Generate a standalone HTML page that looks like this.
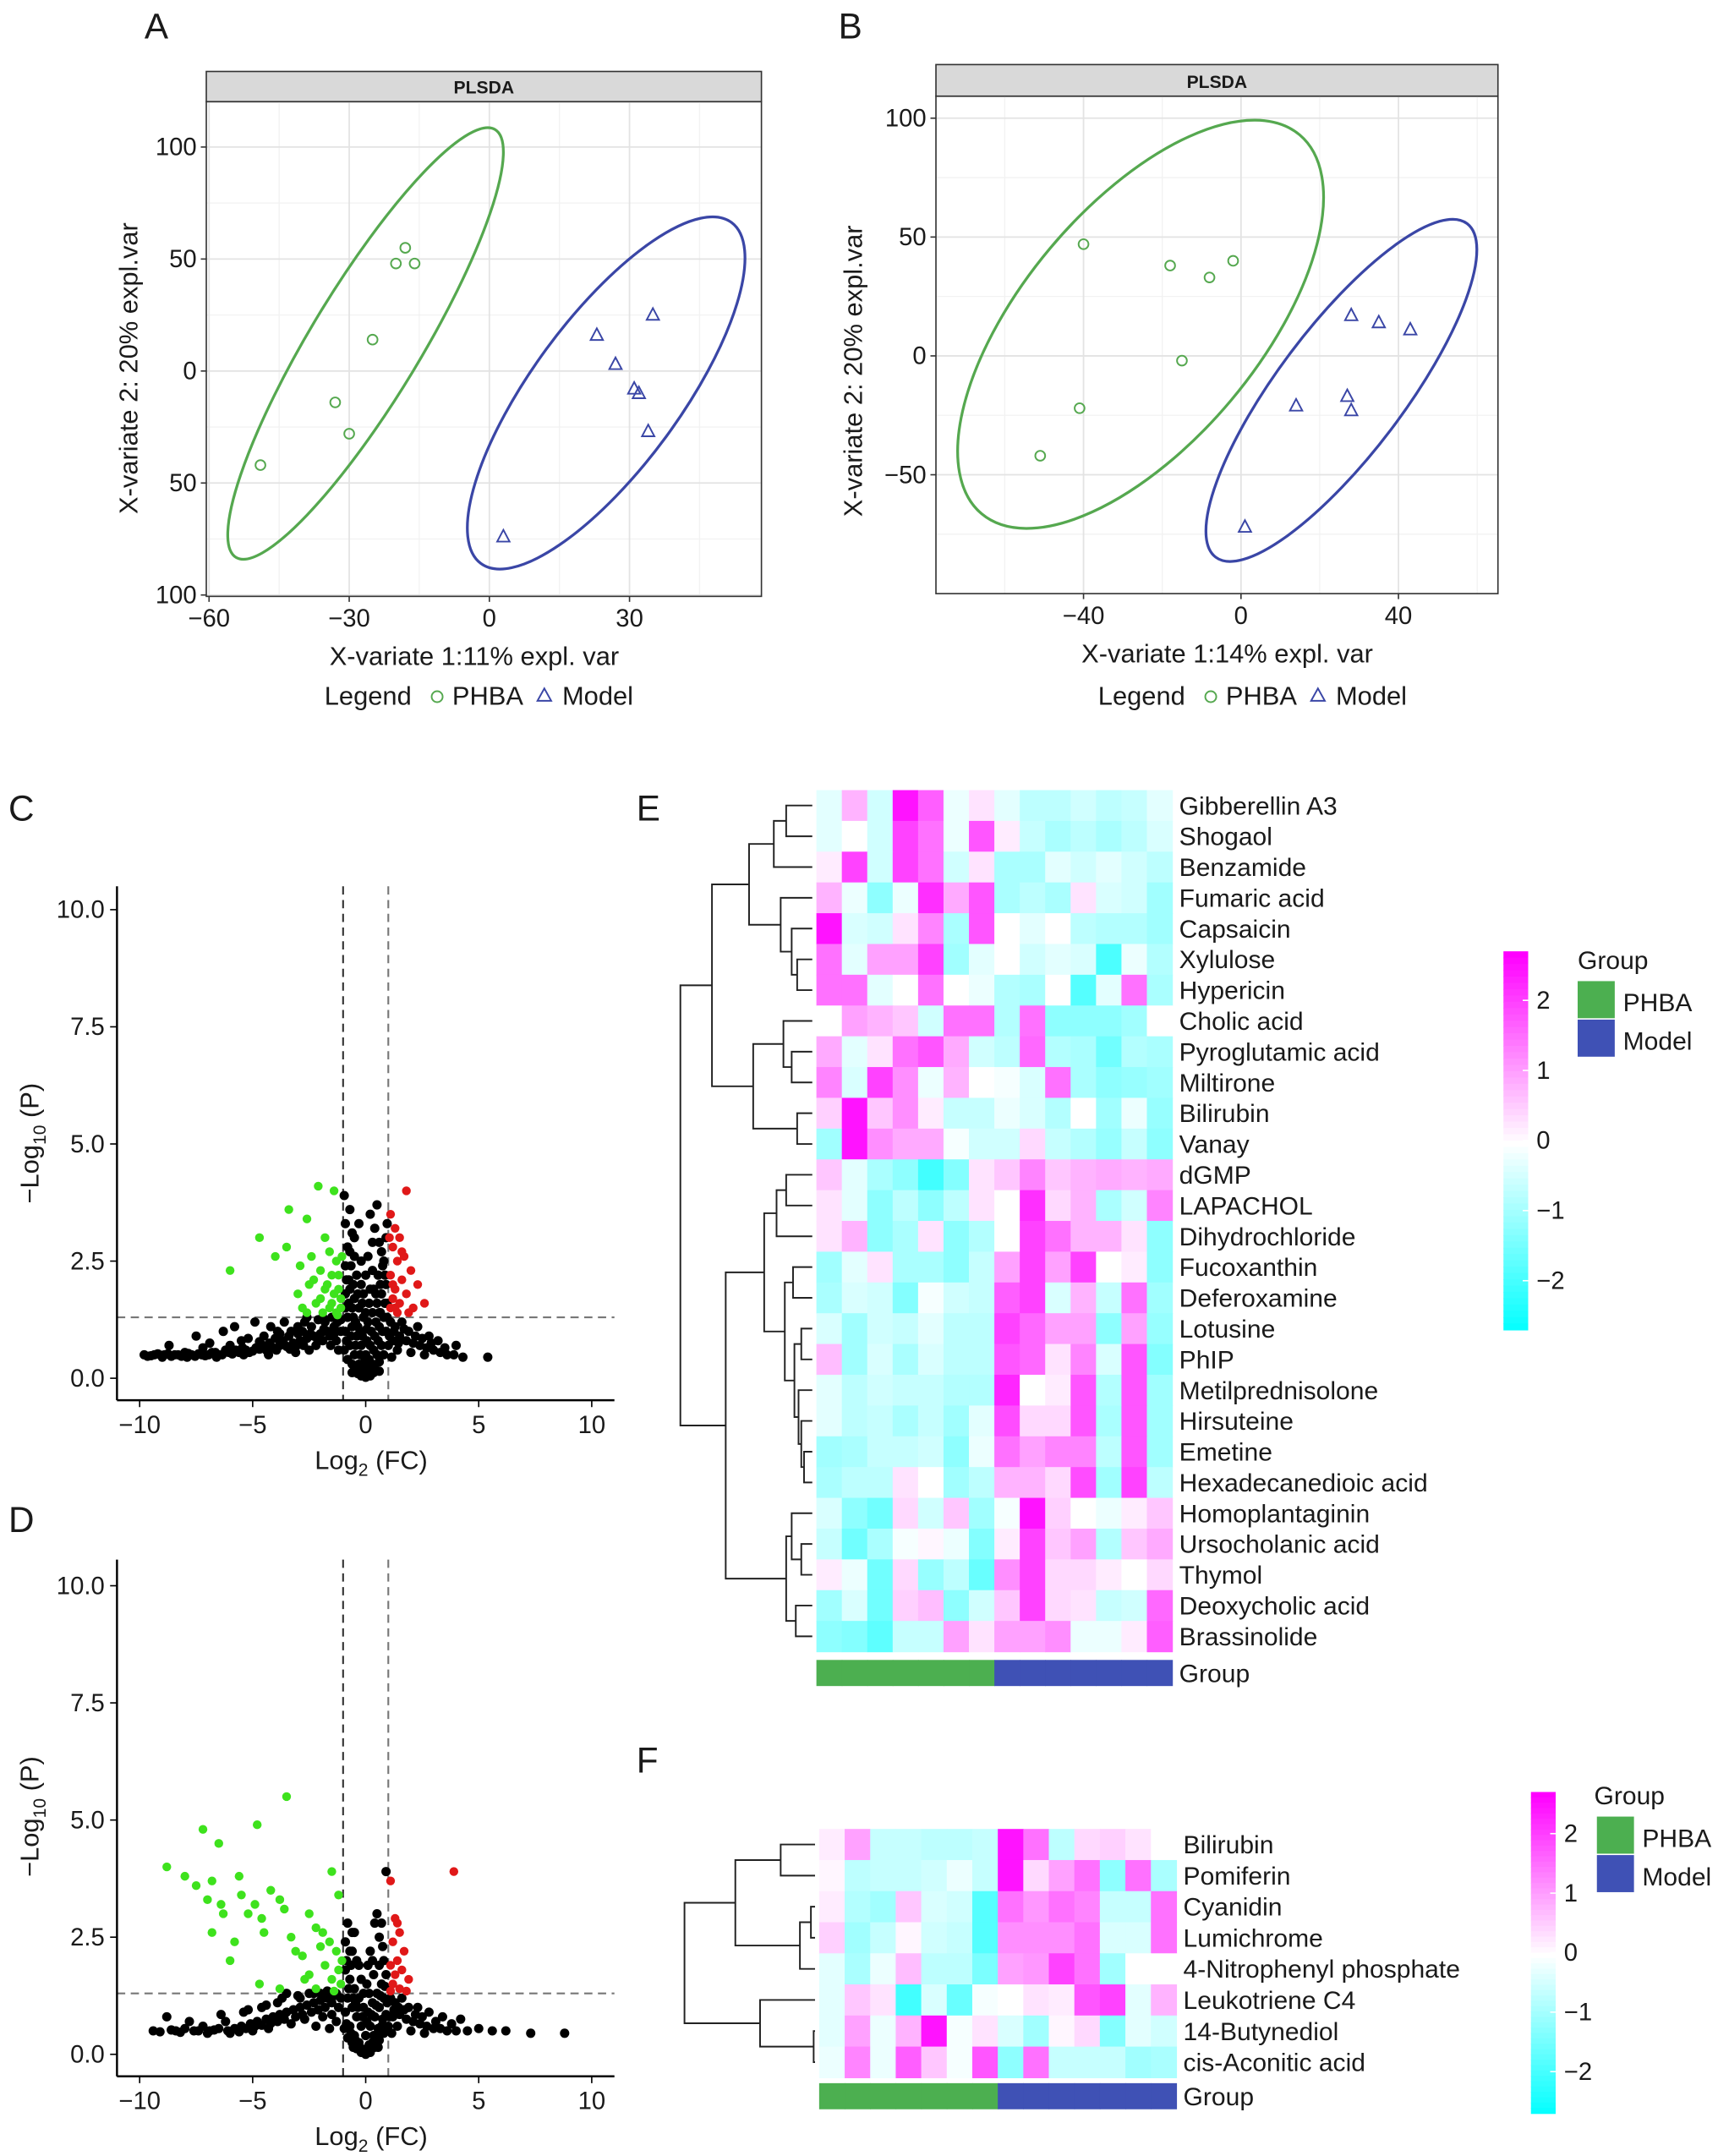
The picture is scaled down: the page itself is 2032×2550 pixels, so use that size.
<!DOCTYPE html>
<html><head><meta charset="utf-8"><style>
html,body{margin:0;padding:0;background:#fff}
svg{display:block}
text{font-family:"Liberation Sans",sans-serif;fill:#1a1a1a}
</style></head>
<body>
<svg id="fig" width="2032" height="2550" viewBox="0 0 1250 1569" xmlns="http://www.w3.org/2000/svg"></svg>
<script>
// ---------- DATA ----------
const plsdaA_phba=[[-18,55],[-20,48],[-16,48],[-25,14],[-33,-14],[-30,-28],[-49,-42]];
const plsdaA_model=[[23,16],[35,25],[27,3],[31,-8],[32,-10],[34,-27],[3,-74]];
const plsdaB_phba=[[-40,47],[-18,38],[-8,33],[-2,40],[-15,-2],[-41,-22],[-51,-42]];
const plsdaB_model=[[28,17],[35,14],[43,11],[27,-17],[28,-23],[14,-21],[1,-72]];
const ellipseA_phba=[-26.5,12.3];
const ellipseA_model=[25,-9.8];
const ellipseB_phba=[-25.5,13.3];
const ellipseB_model=[25.5,-14.5];
const plsdaA_xticks=[-60,-30,0,30];
const plsdaA_xlabels=["\u221260","\u221230","0","30"];
const plsdaA_yticks=[100,50,0,-50,-100];
const plsdaA_ylabels=["100","50","0","50","100"];
const plsdaB_xticks=[-40,0,40];
const plsdaB_xlabels=["\u221240","0","40"];
const plsdaB_yticks=[100,50,0,-50];
const plsdaB_ylabels=["100","50","0","\u221250"];
const volc_xticks=[-10,-5,0,5,10];
const volc_xlabels=["\u221210","\u22125","0","5","10"];
const volc_yticks=[0,2.5,5,7.5,10];
const volc_ylabels=["0.0","2.5","5.0","7.5","10.0"];
const volcC_green=[[-2.1,4.1],[-1.4,4.0],[-3.4,3.6],[-2.6,3.4],[-4.7,3.0],[-3.5,2.8],[-1.8,3.0],[-1.6,2.7],[-4,2.6],[-2.9,2.4],[-2,2.3],[-1.3,2.5],[-1.5,2.2],[-2.5,2.0],[-6,2.3],[-1.8,1.9],[-1.2,1.9],[-3.0,1.8],[-2.2,1.6],[-1.5,1.6],[-1.1,1.5],[-2.8,1.5],[-1.9,1.4],[-1.3,1.4],[-2.4,2.6],[-1.7,2.0],[-1.2,2.2],[-2.0,1.7],[-1.4,1.8],[-1.1,1.7],[-1.6,1.5],[-2.3,2.1],[-1.05,2.6],[-1.25,1.35],[-2.6,1.4]];
const volcC_red=[[1.8,4.0],[1.1,3.5],[1.3,3.2],[1.5,3.0],[1.2,2.8],[1.7,2.6],[1.4,2.5],[2.0,2.3],[1.1,2.2],[1.6,2.1],[2.3,2.0],[1.3,1.9],[1.8,1.8],[1.2,1.7],[1.5,1.6],[2.6,1.6],[1.1,1.5],[1.9,1.4],[1.4,1.4],[1.2,2.0],[1.6,2.7],[2.1,1.5],[1.05,3.0],[1.3,1.5]];
const volcC_black=[[-9.8,0.5],[-9.5,0.48],[-9.2,0.52],[-8.9,0.5],[-8.6,0.47],[-8.3,0.5],[-8.0,0.55],[-7.7,0.5],[-7.4,0.52],[-7.1,0.48],[-6.8,0.55],[-6.5,0.5],[-6.2,0.6],[-5.9,0.52],[-5.6,0.55],[-5.3,0.6],[-5.0,0.58],[-4.7,0.62],[-4.4,0.6],[-4.1,0.65],[-3.8,0.7],[-3.5,0.68],[-3.2,0.75],[-2.9,0.8],[-2.6,0.85],[-2.3,0.9],[-2.0,0.95],[-1.7,1.0],[-1.4,1.1],[-7.5,0.9],[-6.3,1.0],[-5.8,1.1],[-5.2,0.85],[-4.9,1.2],[-4.5,0.9],[-4.2,1.1],[-3.9,1.0],[-3.6,1.2],[-3.3,1.0],[-3.0,1.1],[-2.7,1.2],[-2.4,1.1],[-2.1,1.25],[-1.8,1.2],[-1.5,1.3],[-8.7,0.7],[-6.9,0.75],[-5.5,0.8],[-4.0,0.85],[-3.4,0.9],[-2.8,1.0],[-2.2,0.7],[-1.9,0.8],[-1.6,0.9],[-1.3,0.8],[-1.1,1.0],[-9.0,0.45],[-7.9,0.45],[-6.6,0.45],[-5.4,0.5],[-4.3,0.5],[-3.1,0.55],[-2.5,0.6],[-1.2,0.6],
[-9.65,0.47],[-9.35,0.5],[-9.05,0.49],[-8.75,0.52],[-8.45,0.5],[-8.15,0.47],[-7.85,0.53],[-7.55,0.47],[-7.25,0.5],[-6.95,0.5],[-6.65,0.55],[-6.35,0.5],[-6.05,0.55],[-5.75,0.6],[-5.45,0.65],[-5.15,0.55],[-4.85,0.65],[-4.55,0.7],[-4.25,0.75],[-3.95,0.6],[-3.65,0.8],[-3.35,0.62],[-3.05,0.7],[-2.75,0.7],[-2.45,0.95],[-2.15,0.85],[-1.85,1.05],[-1.55,0.7],[-1.25,1.2],[-4.7,0.78],[-3.8,0.95],[-2.6,1.3],[-1.9,1.3],[-1.4,0.95],[-1.1,1.25],[-6.0,0.7],[-7.2,0.65],[-3.0,0.95],
[-0.9,2.4],[-0.8,2.8],[-0.6,3.1],[-0.5,2.6],[-0.4,2.2],[-0.3,3.3],[0.2,3.5],[0.4,3.2],[0.6,2.9],[0.8,2.5],[0.9,3.0],[-0.9,1.8],[-0.7,1.9],[-0.5,1.7],[-0.3,1.5],[-0.1,1.3],[0.1,1.2],[0.3,1.4],[0.5,1.6],[0.7,1.8],[0.9,2.0],[-0.8,1.3],[-0.6,1.1],[-0.4,0.9],[-0.2,0.7],[0,0.5],[0.2,0.7],[0.4,0.9],[0.6,1.1],[0.8,1.3],[-0.9,1.0],[-0.7,0.7],[-0.5,0.5],[-0.3,0.3],[-0.1,0.15],[0.1,0.1],[0.3,0.3],[0.5,0.5],[0.7,0.7],[0.9,1.0],[-0.95,0.6],[-0.8,0.4],[-0.6,0.3],[-0.4,0.15],[-0.2,0.05],[0,0.02],[0.2,0.05],[0.4,0.2],[0.6,0.35],[0.8,0.5],[1.0,0.7],[-0.85,2.1],[-0.65,2.4],[-0.45,1.2],[-0.25,1.0],[0.05,0.8],[0.35,1.9],[0.55,2.2],[0.75,2.4],[0.95,1.6],[-0.9,1.5],[-0.2,2.0],[0.1,2.6],[0.3,2.3],[-0.9,3.3],[0.5,3.7],[-0.7,3.6],[-0.95,3.9],[0.95,3.3],[-0.6,1.5],[0.6,1.4],[-0.1,1.8],[0.15,1.6],
[-0.75,2.1],[-0.55,2.0],[-0.35,1.8],[-0.15,1.6],[0.0,1.4],[0.2,1.9],[0.45,1.8],[0.65,2.0],[0.85,2.2],[-0.85,0.8],[-0.65,0.9],[-0.45,0.7],[-0.25,0.5],[-0.05,0.35],[0.15,0.4],[0.35,0.6],[0.55,0.8],[0.75,1.0],[0.95,1.3],[-0.75,1.6],[-0.55,1.3],[-0.35,1.1],[-0.15,0.9],[0.05,1.05],[0.25,1.0],[0.45,1.2],[0.65,1.4],[0.85,1.6],[-0.7,2.7],[-0.5,3.0],[0.3,2.9],[0.7,2.7],[-0.2,2.5],[0.0,2.2],[0.15,0.25],[-0.15,0.25],[0.35,0.12],[-0.35,0.1],[0.6,0.15],[-0.6,0.12],
[1.2,0.8],[1.5,0.9],[1.8,0.8],[2.1,0.75],[2.4,0.7],[2.7,0.65],[3.0,0.6],[3.3,0.55],[3.6,0.5],[3.9,0.5],[4.3,0.45],[5.4,0.45],[1.3,1.1],[1.6,1.2],[1.9,1.0],[2.3,1.1],[2.8,0.9],[3.2,0.8],[4.0,0.7],[1.1,1.2],[1.4,0.6],[2.0,0.55],[2.6,0.5],[1.15,0.45],[1.25,1.0],[1.7,1.05],[2.2,0.9],[2.5,0.85],[3.5,0.65],[1.05,0.9],[1.45,0.75],[2.9,0.75]];
const volcD_green=[[-8.8,4.0],[-7.2,4.8],[-6.5,4.5],[-4.8,4.9],[-3.5,5.5],[-8,3.8],[-7.5,3.6],[-6.8,3.7],[-5.6,3.8],[-7,3.3],[-6.4,3.2],[-5.5,3.4],[-4.9,3.2],[-4.2,3.5],[-3.8,3.3],[-6.3,3.0],[-5.2,3.0],[-4.6,2.9],[-3.6,3.1],[-2.5,3.0],[-1.5,3.9],[-1.2,3.4],[-6.8,2.6],[-5.8,2.4],[-4.5,2.6],[-3.3,2.5],[-2.2,2.7],[-1.6,2.4],[-6,2.0],[-3.1,2.2],[-2.8,2.1],[-2.0,2.3],[-1.3,2.2],[-1.8,1.9],[-1.2,1.8],[-2.5,1.7],[-1.5,1.6],[-4.7,1.5],[-3.8,1.4],[-1.1,1.5],[-2.2,1.4],[-1.4,1.35],[-2.7,1.6],[-1.9,2.6],[-1.05,2.0]];
const volcD_red=[[3.9,3.9],[1.1,3.7],[1.3,2.9],[1.5,2.6],[1.2,2.4],[1.7,2.2],[1.4,2.0],[1.1,1.9],[1.6,1.8],[1.3,1.7],[1.9,1.6],[1.2,1.5],[1.5,1.4],[1.1,1.35],[1.8,1.35],[1.4,2.8]];
const volcD_black=[[-9.4,0.5],[-8.8,0.8],[-8.4,0.5],[-8.0,0.55],[-7.6,0.5],[-7.2,0.6],[-6.9,0.5],[-6.5,0.55],[-6.2,0.7],[-5.8,0.55],[-5.5,0.6],[-5.1,0.65],[-4.8,0.7],[-4.4,0.75],[-4.1,0.8],[-3.8,0.85],[-3.5,0.9],[-3.2,0.95],[-2.9,1.0],[-2.6,1.05],[-2.3,1.1],[-2.0,1.15],[-1.7,1.2],[-1.4,1.25],[-3.5,1.3],[-3.0,1.25],[-2.5,1.3],[-2.0,1.3],[-1.5,1.1],[-1.2,1.0],[-4.6,1.0],[-5.4,0.9],[-6.4,0.85],[-7.8,0.7],[-3.9,1.1],[-2.7,0.75],[-1.9,0.8],[-1.3,0.7],[-3.3,0.65],[-4.3,0.55],[-5.0,0.5],[-6.0,0.45],[-7.0,0.45],[-2.2,0.6],[-1.6,0.55],
[-9.1,0.48],[-8.6,0.52],[-8.2,0.47],[-7.4,0.5],[-6.7,0.52],[-6.1,0.5],[-5.6,0.48],[-5.3,0.55],[-4.9,0.6],[-4.6,0.62],[-4.2,0.66],[-3.9,0.7],[-3.6,0.75],[-3.1,0.8],[-2.8,0.85],[-2.4,0.9],[-2.1,0.95],[-1.8,1.0],[-1.5,0.85],[-1.1,1.2],[-3.7,1.2],[-2.3,1.3],[-1.7,1.35],[-2.9,1.2],[-4.4,1.05],[-5.2,0.95],[-1.3,1.3],
[-0.9,2.4],[-0.8,2.8],[-0.6,2.2],[-0.5,2.6],[-0.3,1.9],[0.2,2.2],[0.4,2.8],[0.6,2.5],[0.8,2.0],[0.9,3.9],[0.5,3.0],[-0.9,1.8],[-0.7,1.6],[-0.5,1.4],[-0.3,1.2],[-0.1,1.0],[0.1,0.9],[0.3,1.1],[0.5,1.3],[0.7,1.5],[0.9,1.7],[-0.8,1.2],[-0.6,1.0],[-0.4,0.8],[-0.2,0.6],[0,0.4],[0.2,0.6],[0.4,0.8],[0.6,1.0],[0.8,1.2],[-0.9,0.9],[-0.7,0.6],[-0.5,0.4],[-0.3,0.25],[-0.1,0.1],[0.1,0.08],[0.3,0.25],[0.5,0.4],[0.7,0.6],[0.9,0.85],[-0.95,0.55],[-0.8,0.35],[-0.6,0.25],[-0.4,0.12],[-0.2,0.04],[0,0.0],[0.2,0.04],[0.4,0.15],[0.6,0.3],[0.8,0.45],[1.0,0.6],[-0.85,2.0],[-0.65,1.9],[-0.45,1.1],[0.05,1.5],[0.35,1.7],[0.75,2.3],[-0.2,1.6],[0.1,1.9],
[-0.75,1.4],[-0.55,1.2],[-0.35,1.0],[-0.15,0.8],[0.05,0.7],[0.25,0.85],[0.45,1.05],[0.65,1.25],[0.85,1.45],[-0.85,0.65],[-0.65,0.45],[-0.45,0.3],[-0.25,0.15],[0.15,0.2],[0.35,0.4],[0.55,0.55],[0.75,0.75],[0.95,1.1],[-0.7,2.2],[-0.4,2.0],[0.3,2.0],[0.6,1.9],[-0.1,1.3],[0.15,1.3],[0.7,2.8],[-0.6,2.6],[0.55,0.15],[-0.55,0.15],
[1.2,0.8],[1.5,0.85],[1.8,0.75],[2.1,0.7],[2.4,0.65],[2.7,0.6],[3.0,0.55],[3.3,0.55],[3.6,0.5],[4.0,0.5],[4.5,0.5],[5.0,0.55],[5.6,0.5],[6.2,0.5],[7.3,0.45],[8.8,0.45],[1.3,1.1],[1.6,1.2],[1.9,1.0],[2.3,1.0],[2.8,0.9],[3.4,0.8],[4.2,0.75],[1.1,1.2],[1.4,0.6],[2.0,0.5],[2.6,0.45],[1.15,0.45],[3.8,0.65],[1.25,0.95],[1.7,0.95],[2.2,0.85],[2.5,0.8],[3.1,0.7],[1.05,0.8],[1.45,1.0]];
const heatE_labels=["Gibberellin A3","Shogaol","Benzamide","Fumaric acid","Capsaicin","Xylulose","Hypericin","Cholic acid","Pyroglutamic acid","Miltirone","Bilirubin","Vanay","dGMP","LAPACHOL","Dihydrochloride","Fucoxanthin","Deferoxamine","Lotusine","PhIP","Metilprednisolone","Hirsuteine","Emetine","Hexadecanedioic acid","Homoplantaginin","Ursocholanic acid","Thymol","Deoxycholic acid","Brassinolide"];
const heatE_values=[
[-0.3,0.8,-0.5,2.5,1.7,-0.2,0.3,-0.3,-0.7,-0.7,-0.5,-0.7,-0.6,-0.3],
[-0.3,0,-0.5,2,1.5,-0.2,1.8,0.2,-0.6,-0.9,-0.7,-0.9,-0.7,-0.4],
[0.2,2,-0.5,2,1.5,-0.5,0.3,-0.9,-0.9,-0.3,-0.5,-0.3,-0.5,-0.7],
[0.8,-0.2,-1.2,-0.2,2.2,0.9,1.8,-0.9,-0.7,-0.9,0.3,-0.4,-0.5,-1],
[2.5,-0.4,-0.5,0.3,1.3,-0.9,1.8,0,-0.3,0,-0.7,-0.8,-0.8,-1],
[1.5,-0.3,1,1,2,-1,-0.3,0,-0.5,-0.3,-0.4,-1.9,-0.2,-0.8],
[1.5,1.5,-0.3,0,1.5,0,-0.2,-0.8,-0.9,0,-1.8,-0.3,1.5,-0.9],
[0,1,0.8,0.6,-0.5,1.5,1.5,-0.8,1.5,-1.2,-1.2,-1.2,-1,0],
[0.9,-0.3,0.3,1.5,1.8,0.9,-0.5,-0.7,1.6,-0.8,-0.9,-1.5,-0.8,-0.9],
[1.3,-0.4,2,1.2,-0.2,0.8,0,-0.1,-0.4,1.5,-0.9,-1.2,-1.1,-1],
[0.5,2.5,0.6,1.2,0.2,-0.6,-0.6,-0.2,-0.4,-0.8,0,-1,-0.2,-1.1],
[-1,2.5,1.2,0.9,0.9,-0.1,-0.5,-0.5,0.4,-0.6,-0.8,-1.1,-0.6,-1.2],
[0.6,-0.3,-0.9,-1.2,-2,-1.3,0.3,0.6,1.3,0.6,0.8,0.9,0.8,0.9],
[0.3,-0.3,-1.2,-0.7,-1.2,-0.7,0.3,0,2.2,0.4,0.8,-0.9,-0.5,1.3],
[0.3,0.8,-1.2,-0.9,0.3,-1.2,-0.8,0,2,1.5,0.8,0.8,0.3,-1.2],
[-1,-0.3,0.3,-0.9,-0.9,-1.2,-0.6,1,2,1,2,0,0.2,-1.2],
[-0.9,-0.4,-0.5,-1.3,-0.1,-0.5,-0.6,1.7,2,-0.4,0.8,-0.6,1.5,-1],
[-0.4,-1,-0.5,-0.6,-0.3,-0.7,-0.7,2,1.6,1,1,-1.2,1,-1.1],
[0.7,-1,-0.4,-0.9,-0.4,-0.7,-0.7,1.8,1.6,0.3,1.3,-0.4,1.8,-1.3],
[-0.3,-0.7,-0.5,-0.6,-0.6,-0.8,-0.8,2.3,0,0.2,1.8,-0.8,1.8,-1],
[-0.3,-0.7,-0.6,-0.9,-0.6,-1,-0.3,1.9,0.4,0.4,1.8,-0.9,1.8,-1],
[-1,-0.9,-0.6,-0.6,-0.5,-1.2,-0.2,1.5,1,1.3,1.3,-0.7,1.8,-1],
[-0.9,-0.7,-0.7,0.3,0,-1,-0.7,0.8,0.8,0.4,1.9,-1,2,-0.7],
[-0.4,-1.2,-1.5,0.4,-0.5,0.6,-1,-0.1,2.5,0.5,0,-0.2,0.2,0.6],
[-0.6,-1.5,-0.9,-0.1,0.1,-0.2,-1.3,0.2,2,0.6,1,-0.8,0.6,0.9],
[0.2,-0.2,-1.5,0.4,-1.1,-0.7,-1.6,1.2,2,0.4,0.4,0.2,0,0.4],
[-1,-0.4,-1.5,0.5,0.7,-1.2,-0.5,0.6,2,0.4,0.3,-0.6,-0.5,1.6],
[-1.2,-1.3,-1.7,-0.6,-0.6,1,0.3,1,1,1.2,-0.2,-0.2,0.2,1.7]];
const heatF_labels=["Bilirubin","Pomiferin","Cyanidin","Lumichrome","4-Nitrophenyl phosphate","Leukotriene C4","14-Butynediol","cis-Aconitic acid"];
const heatF_values=[
[0.2,1,-0.6,-0.6,-0.7,-0.7,-0.6,2.5,1.5,-0.7,0.4,0.5,0.3,0],
[0.1,-0.7,-0.6,-0.6,-0.5,-0.2,-0.6,2.5,0.4,1,1.5,-1.2,1.5,-0.9],
[0.2,-0.8,-1,0.6,-0.4,-0.5,-1.8,1.5,1.1,1.5,1.3,-0.6,-0.6,1.5],
[0.5,-1,-0.6,0.1,-0.5,-0.6,-1.8,1.2,1.2,1.2,1.5,-0.4,-0.4,1.5],
[-0.3,-0.9,-0.2,0.7,-0.7,-0.7,-1.4,1,1.1,2,1.5,-1,0,0],
[-0.3,0.6,0.3,-2,-0.4,-1.6,-0.1,0,0.3,0.2,1.8,2,-0.3,0.8],
[-0.3,1,-0.2,0.8,2.5,-0.1,0.3,-0.4,-1,0.1,0.4,-1.3,-0.3,-0.5],
[-0.2,1.3,-0.2,1.7,0.6,-0.1,1.8,-1.2,1.5,-0.6,-0.6,-0.6,-1,-0.9]];
const groups=["PHBA","PHBA","PHBA","PHBA","PHBA","PHBA","PHBA","Model","Model","Model","Model","Model","Model","Model"];
const cbar_ticks=[2,1,0,-1,-2];
const cbar_labels=["2","1","0","\u22121","\u22122"];
const treeE=[[[[[0,1,572],2,563],[3,[4,[5,6,580],576],568],545],[[7,[8,9,576],570],[10,11,580],548],518],[[[[12,13,572],14,565],[[15,16,577],[[17,18,583],[19,[20,[21,22,585],583],581],578],571],556],[[23,[24,25,583],576],[26,27,579],572],528],495];
const treeF=[[[0,1,568],[[2,3,590],4,582],535],[5,[6,7,592],553],498];

// ---------- HELPERS ----------
const NS="http://www.w3.org/2000/svg";
const svg=document.getElementById('fig');
function mk(tag,attrs,parent){const e=document.createElementNS(NS,tag);for(const k in attrs)e.setAttribute(k,attrs[k]);(parent||svg).appendChild(e);return e;}
function txt(x,y,s,size,anchor,parent,extra){const t=mk('text',Object.assign({x:x,y:y,'font-size':size,'text-anchor':anchor||'start'},extra||{}),parent);t.textContent=s;return t;}
function grp(name){const g=mk('g',{});return g;}
function heatColor(v){let t=Math.min(Math.abs(v)/2.7,1);if(v>=0){return `rgb(255,${Math.round(255*(1-t))},255)`;}return `rgb(${Math.round(255*(1-t))},255,255)`;}

[["A",105,28],["B",610,28],["C",6,597],["D",6,1115],["E",463,597],["F",463,1290]].forEach(p=>{
  const t=txt(p[1],p[2],p[0],26,'start');
  
  
});

// ---------- PLSDA ----------
function plsda(cfg){
  const g=grp(cfg.name);
  const {L,R,T,B,stripT,xs,ys}=cfg;
  mk('rect',{x:L,y:stripT,width:R-L,height:T-stripT,fill:'#d9d9d9',stroke:'#333','stroke-width':1},g);
  const st=txt((L+R)/2,T-6,'PLSDA',13,'middle',g,{'font-weight':'bold'});
  
  
  cfg.xminor.forEach(v=>mk('line',{x1:xs(v),x2:xs(v),y1:T,y2:B,stroke:'#f2f2f2','stroke-width':0.8},g));
  cfg.yminor.forEach(v=>mk('line',{x1:L,x2:R,y1:ys(v),y2:ys(v),stroke:'#f2f2f2','stroke-width':0.8},g));
  cfg.xt.forEach(v=>mk('line',{x1:xs(v),x2:xs(v),y1:T,y2:B,stroke:'#e3e3e3','stroke-width':1.1},g));
  cfg.yt.forEach(v=>mk('line',{x1:L,x2:R,y1:ys(v),y2:ys(v),stroke:'#e3e3e3','stroke-width':1.1},g));
  mk('rect',{x:L,y:T,width:R-L,height:B-T,fill:'none',stroke:'#333','stroke-width':1},g);
  cfg.xt.forEach((v,i)=>{mk('line',{x1:xs(v),x2:xs(v),y1:B,y2:B+4,stroke:'#333'},g);
    const t=txt(xs(v),B+22,cfg.xl[i],18,'middle',g);});
  cfg.yt.forEach((v,i)=>{mk('line',{x1:L-4,x2:L,y1:ys(v),y2:ys(v),stroke:'#333'},g);
    const t=txt(L-7,ys(v)+6,cfg.yl[i],18,'end',g);});
  const eg=mk('ellipse',{cx:xs(cfg.eP[0]),cy:ys(cfg.eP[1]),rx:cfg.eP_r[0],ry:cfg.eP_r[1],transform:`rotate(${cfg.eP_r[2]} ${xs(cfg.eP[0])} ${ys(cfg.eP[1])})`,fill:'none',stroke:'#55a84f','stroke-width':2},g);
  
  
  const eb=mk('ellipse',{cx:xs(cfg.eM[0]),cy:ys(cfg.eM[1]),rx:cfg.eM_r[0],ry:cfg.eM_r[1],transform:`rotate(${cfg.eM_r[2]} ${xs(cfg.eM[0])} ${ys(cfg.eM[1])})`,fill:'none',stroke:'#3a46a6','stroke-width':2},g);
  
  
  cfg.P.forEach(p=>{const c=mk('circle',{cx:xs(p[0]),cy:ys(p[1]),r:3.6,fill:'none',stroke:'#55a84f','stroke-width':1.2},g);
    
    });
  cfg.M.forEach(p=>{const x=xs(p[0]),y=ys(p[1]);const c=mk('polygon',{points:`${x},${y-5} ${x-4.5},${y+3.5} ${x+4.5},${y+3.5}`,fill:'none',stroke:'#3a46a6','stroke-width':1.2},g);
    
    });
  const xt=txt(cfg.xtitle[1],cfg.xtitle[2],cfg.xtitle[0],19,'middle',g);
  
  
  const yt=txt(0,0,cfg.ytitle[0],19,'middle',g,{transform:`translate(${cfg.ytitle[1]},${cfg.ytitle[2]}) rotate(-90)`});
  
  
  const lg=mk('g',{},g);
  
  
  const lx=cfg.leg[0],ly=cfg.leg[1];
  txt(lx,ly,'Legend',19,'start',lg);
  mk('circle',{cx:lx+82,cy:ly-6,r:4,fill:'none',stroke:'#55a84f','stroke-width':1.2},lg);
  txt(lx+93,ly,'PHBA',19,'start',lg);
  mk('polygon',{points:`${lx+160},${ly-12} ${lx+155},${ly-3} ${lx+165},${ly-3}`,fill:'none',stroke:'#3a46a6','stroke-width':1.2},lg);
  txt(lx+173,ly,'Model',19,'start',lg);
}
plsda({name:'plsda-a',L:150,R:554,T:74,B:434,stripT:52,xs:v=>356+3.4*v,ys:v=>270-1.63*v,
  xt:plsdaA_xticks,xl:plsdaA_xlabels,yt:plsdaA_yticks,yl:plsdaA_ylabels,xminor:[-45,-15,15,45],yminor:[-75,-25,25,75],
  P:plsdaA_phba,M:plsdaA_model,eP:ellipseA_phba,eP_r:[182,40,-58.8],eM:ellipseA_model,eM_r:[154,54,-53.7],
  xtitle:['X-variate 1:11% expl. var',345,484],ytitle:['X-variate 2: 20% expl.var',100,268],leg:[236,513]});
plsda({name:'plsda-b',L:681,R:1090,T:70,B:432,stripT:47,xs:v=>903+2.865*v,ys:v=>259-1.73*v,
  xt:plsdaB_xticks,xl:plsdaB_xlabels,yt:plsdaB_yticks,yl:plsdaB_ylabels,xminor:[-60,-20,20,60],yminor:[-75,-25,25,75],
  P:plsdaB_phba,M:plsdaB_model,eP:ellipseB_phba,eP_r:[180,86,-50],eM:ellipseB_model,eM_r:[152,46,-53],
  xtitle:['X-variate 1:14% expl. var',893,482],ytitle:['X-variate 2: 20% expl.var',627,270],leg:[799,513]});

// ---------- VOLCANO ----------
function volcano(cfg){
  const g=grp(cfg.name);
  const xs=v=>266+16.45*v, ys=v=>cfg.y0-34.1*v;
  const axisY=cfg.y0+16;
  mk('line',{x1:xs(-1),x2:xs(-1),y1:cfg.top,y2:axisY,stroke:'#333','stroke-dasharray':'6,4','stroke-width':1.3},g);
  mk('line',{x1:xs(1),x2:xs(1),y1:cfg.top,y2:axisY,stroke:'#777','stroke-dasharray':'6,4','stroke-width':1.3},g);
  mk('line',{x1:85,x2:447,y1:ys(1.3),y2:ys(1.3),stroke:'#777','stroke-dasharray':'6,4','stroke-width':1.3},g);
  cfg.black.forEach(p=>{const c=mk('circle',{cx:xs(p[0]),cy:ys(p[1]),r:3.4,fill:'#000'},g);
    
    });
  cfg.green.forEach(p=>{const c=mk('circle',{cx:xs(p[0]),cy:ys(p[1]),r:3.2,fill:'#3ee21d'},g);
    
    });
  cfg.red.forEach(p=>{const c=mk('circle',{cx:xs(p[0]),cy:ys(p[1]),r:3.2,fill:'#e01818'},g);
    
    });
  mk('line',{x1:85,x2:85,y1:cfg.top,y2:axisY,stroke:'#000','stroke-width':1.5},g);
  mk('line',{x1:85,x2:447,y1:axisY,y2:axisY,stroke:'#000','stroke-width':1.5},g);
  volc_xticks.forEach((v,i)=>{mk('line',{x1:xs(v),x2:xs(v),y1:axisY,y2:axisY+5,stroke:'#000'},g);
    const t=txt(xs(v),axisY+24,volc_xlabels[i],18,'middle',g);});
  volc_yticks.forEach((v,i)=>{mk('line',{x1:80,x2:85,y1:ys(v),y2:ys(v),stroke:'#000'},g);
    const t=txt(76,ys(v)+6,volc_ylabels[i],18,'end',g);});
  const xt=mk('text',{x:270,y:axisY+50,'font-size':19,'text-anchor':'middle'},g);
  xt.innerHTML='Log<tspan font-size="13" dy="5">2</tspan><tspan dy="-5"> (FC)</tspan>';
  
  
  const yt=mk('text',{x:0,y:0,'font-size':19,'text-anchor':'middle',transform:`translate(28,${cfg.ytc}) rotate(-90)`},g);
  yt.innerHTML='\u2212Log<tspan font-size="13" dy="5">10</tspan><tspan dy="-5"> (P)</tspan>';
  
  
}
volcano({name:'volcano-c',y0:1003,top:645,ytc:832,black:volcC_black,green:volcC_green,red:volcC_red});
volcano({name:'volcano-d',y0:1495,top:1135,ytc:1322,black:volcD_black,green:volcD_green,red:volcD_red});

// ---------- HEATMAPS ----------
function heatmap(cfg){
  const g=grp(cfg.name);
  const nR=cfg.vals.length,nC=cfg.vals[0].length;
  const cw=(cfg.R-cfg.L)/nC, rh=(cfg.B-cfg.T)/nR;
  cfg.vals.forEach((row,i)=>row.forEach((v,j)=>{
    const r=mk('rect',{x:cfg.L+j*cw,y:cfg.T+i*rh,width:cw+0.4,height:rh+0.4,fill:heatColor(v)},g);
    
    
  }));
  cfg.labels.forEach((s,i)=>{const t=txt(cfg.R+5,cfg.T+(i+0.5)*rh+6.5,s,18.5,'start',g);
    
    });
  groups.forEach((gname,j)=>{const r=mk('rect',{x:cfg.L+j*cw,y:cfg.gT,width:cw+0.4,height:19,fill:gname==='PHBA'?'#4caf50':'#3f51b5'},g);
    
    });
  txt(cfg.R+5,cfg.gT+16,'Group',18.5,'start',g);
  const dg=mk('g',{},g);
  
  
  const leafX=cfg.L-3;
  function draw(n){
    if(typeof n==='number'){return {x:leafX,y:cfg.T+(n+0.5)*rh};}
    const a=draw(n[0]),b=draw(n[1]),x=n[2];
    mk('path',{d:`M${a.x},${a.y}H${x}V${b.y}H${b.x}`,fill:'none',stroke:'#222','stroke-width':1.2},dg);
    return {x:x,y:(a.y+b.y)/2};
  }
  draw(cfg.tree);
  const cb=mk('g',{},g);
  
  
  const cy=v=>cfg.cb0-cfg.cbs*v;
  const steps=60,top=cy(2.7),bot=cy(-2.7);
  for(let k=0;k<steps;k++){const v=2.7-5.4*k/steps;mk('rect',{x:cfg.cbx,y:top+(bot-top)*k/steps,width:18,height:(bot-top)/steps+0.5,fill:heatColor(v)},cb);}
  cbar_ticks.forEach((v,i)=>{mk('line',{x1:cfg.cbx+14,x2:cfg.cbx+18,y1:cy(v),y2:cy(v),stroke:'#fff'},cb);
    txt(cfg.cbx+24,cy(v)+6,cbar_labels[i],18,'start',cb);});
  const lg=mk('g',{},g);
  
  
  txt(cfg.lg[0],cfg.lg[1],'Group',18.5,'start',lg);
  mk('rect',{x:cfg.lg[2],y:cfg.lg[1]+9,width:27,height:27,fill:'#4caf50'},lg);
  mk('rect',{x:cfg.lg[2],y:cfg.lg[1]+37,width:27,height:27,fill:'#3f51b5'},lg);
  txt(cfg.lg[2]+33,cfg.lg[1]+31,'PHBA',18.5,'start',lg);
  txt(cfg.lg[2]+33,cfg.lg[1]+59,'Model',18.5,'start',lg);
}
heatmap({name:'heatmap-e',L:594,R:853,T:575,B:1202,gT:1208,vals:heatE_values,labels:heatE_labels,tree:treeE,cbx:1094,cb0:830,cbs:51,lg:[1148,705,1148]});
heatmap({name:'heatmap-f',L:596,R:856,T:1331,B:1512,gT:1516,vals:heatF_values,labels:heatF_labels,tree:treeF,cbx:1114,cb0:1421,cbs:43.3,lg:[1160,1313,1162]});
</script>
</body></html>
